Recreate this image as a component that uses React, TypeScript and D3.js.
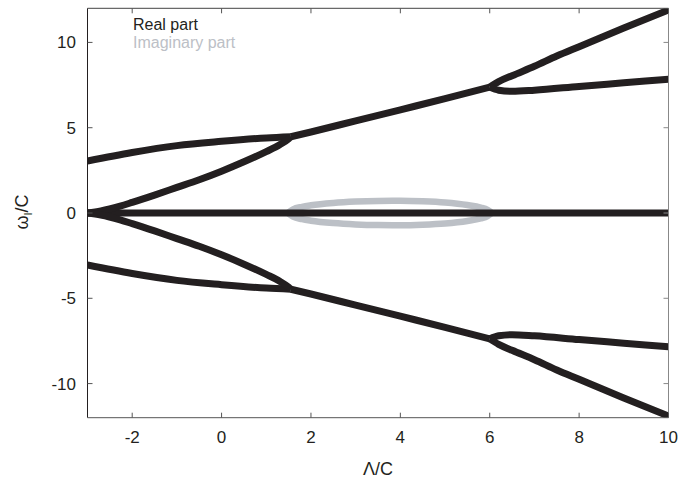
import React from "react";
import * as d3 from "d3";

const W = 679, H = 482;
const M = { left: 87.5, right: 668.5, top: 8.3, bottom: 417.7 };

const xTicks = [-2, 0, 2, 4, 6, 8, 10];
const yTicks = [-10, -5, 0, 5, 10];

// Real part branches (Λ/C, ω/C)
const zeroX = [-3, 10];
const zeroY = [0, 0];

const upAX = [-3, -2, -1, 0, 1, 1.55];
const upAY = [3.05, 3.55, 3.95, 4.2, 4.4, 4.47];
const upBX = [-3, -2.7, -2.27, -2, -1.5, -1, -0.5, 0, 0.5, 1, 1.3, 1.5, 1.55];
const upBY = [0, 0.12, 0.4, 0.62, 1.05, 1.5, 1.95, 2.45, 3.0, 3.6, 4.0, 4.35, 4.47];
const upMX = [1.55, 2, 3, 4, 5, 6];
const upMY = [4.47, 4.75, 5.4, 6.05, 6.7, 7.38];
const upTopX = [6, 6.2, 6.5, 7, 7.5, 8, 9, 10];
const upTopY = [7.38, 7.7, 8.05, 8.6, 9.2, 9.75, 10.85, 11.9];
const upLowX = [6, 6.2, 6.5, 7, 8, 9, 10];
const upLowY = [7.38, 7.2, 7.13, 7.2, 7.42, 7.63, 7.84];

const dnAX = [-3, -2, -1, 0, 1, 1.55];
const dnAY = [-3.05, -3.55, -3.95, -4.2, -4.4, -4.47];
const dnBX = [-3, -2.7, -2.27, -2, -1.5, -1, -0.5, 0, 0.5, 1, 1.3, 1.5, 1.55];
const dnBY = [0, -0.12, -0.4, -0.62, -1.05, -1.5, -1.95, -2.45, -3.0, -3.6, -4.0, -4.35, -4.47];
const dnMX = [1.55, 2, 3, 4, 5, 6];
const dnMY = [-4.47, -4.75, -5.4, -6.05, -6.7, -7.38];
const dnBotX = [6, 6.2, 6.5, 7, 7.5, 8, 9, 10];
const dnBotY = [-7.38, -7.7, -8.05, -8.6, -9.2, -9.75, -10.85, -11.9];
const dnHighX = [6, 6.2, 6.5, 7, 8, 9, 10];
const dnHighY = [-7.38, -7.2, -7.13, -7.2, -7.42, -7.63, -7.84];

// Imaginary part loop
const imUpX = [1.48, 1.6, 1.8, 2.0, 2.5, 3.0, 3.5, 4.0, 4.5, 5.0, 5.5, 5.8, 5.95, 6.05];
const imUpY = [0, 0.22, 0.36, 0.45, 0.59, 0.67, 0.71, 0.72, 0.69, 0.62, 0.47, 0.32, 0.18, 0];
const imDnX = [1.48, 1.6, 1.8, 2.0, 2.5, 3.0, 3.5, 4.0, 4.5, 5.0, 5.5, 5.8, 5.95, 6.05];
const imDnY = [0, -0.22, -0.36, -0.45, -0.59, -0.67, -0.71, -0.72, -0.69, -0.62, -0.47, -0.32, -0.18, 0];

const realSeries: [number[], number[]][] = [
  [zeroX, zeroY],
  [upAX, upAY], [upBX, upBY], [upMX, upMY], [upTopX, upTopY], [upLowX, upLowY],
  [dnAX, dnAY], [dnBX, dnBY], [dnMX, dnMY], [dnBotX, dnBotY], [dnHighX, dnHighY],
];
const imagSeries: [number[], number[]][] = [[imUpX, imUpY], [imDnX, imDnY]];

const BLACK = "#231f20";
const GRAY = "#bcc0c6";
const FONT = "'Liberation Sans', Arial, Helvetica, sans-serif";

export default function App() {
  const x = d3.scaleLinear().domain([-3, 10]).range([M.left, M.right]);
  const y = d3.scaleLinear().domain([-12, 12]).range([M.bottom, M.top]);
  const line = d3
    .line<[number, number]>()
    .x((d) => x(d[0]))
    .y((d) => y(d[1]))
    .curve(d3.curveMonotoneX);
  const toPts = (xs: number[], ys: number[]) => xs.map((v, i) => [v, ys[i]] as [number, number]);
  const tl = 5;

  return (
    <svg width={W} height={H} style={{ position: "absolute", left: 0, top: 0, background: "#fff" }}>
      <defs>
        <clipPath id="plotclip">
          <rect x={M.left} y={M.top} width={M.right - M.left} height={M.bottom - M.top} />
        </clipPath>
      </defs>
      <rect x={0} y={0} width={W} height={H} fill="#fff" />
      <g clipPath="url(#plotclip)">
        {imagSeries.map(([xs, ys], i) => (
          <path key={"im" + i} d={line(toPts(xs, ys)) || ""} fill="none" stroke={GRAY} strokeWidth={6.5} strokeLinejoin="round" />
        ))}
        {realSeries.map(([xs, ys], i) => (
          <path key={"re" + i} d={line(toPts(xs, ys)) || ""} fill="none" stroke={BLACK} strokeWidth={7} strokeLinejoin="round" />
        ))}
      </g>
      {/* frame */}
      <line x1={M.left} x2={M.left} y1={M.top} y2={M.bottom} stroke={BLACK} strokeWidth={1} />
      <line x1={M.left} x2={M.right} y1={M.bottom} y2={M.bottom} stroke="#555" strokeWidth={1} />
      <line x1={M.left} x2={M.right} y1={M.top} y2={M.top} stroke="#444" strokeWidth={1} />
      <line x1={M.right} x2={M.right} y1={M.top} y2={M.bottom} stroke="#888" strokeWidth={1} />
      {/* x ticks */}
      {xTicks.map((t) => (
        <g key={"xt" + t}>
          <line x1={x(t)} x2={x(t)} y1={M.bottom} y2={M.bottom - tl} stroke="#555" />
          <line x1={x(t)} x2={x(t)} y1={M.top} y2={M.top + tl} stroke="#555" />
          <text x={x(t)} y={443} textAnchor="middle" fontFamily={FONT} fontSize={17} fill={BLACK}>
            {t}
          </text>
        </g>
      ))}
      {yTicks.map((t) => (
        <g key={"yt" + t}>
          <line x1={M.left} x2={M.left + tl} y1={y(t)} y2={y(t)} stroke="#555" />
          <line x1={M.right} x2={M.right - tl} y1={y(t)} y2={y(t)} stroke="#888" />
          <text x={76} y={y(t) + 6} textAnchor="end" fontFamily={FONT} fontSize={17} fill={BLACK}>
            {t}
          </text>
        </g>
      ))}
      {/* axis titles */}
      <text x={378} y={475} textAnchor="middle" fontFamily={FONT} fontSize={18} fill={BLACK}>
        Λ/C
      </text>
      <text transform="translate(28,212) rotate(-90)" textAnchor="middle" fontFamily={FONT} fontSize={18} fill={BLACK}>
        ω<tspan fontSize={11} dy={4}>I</tspan>
        <tspan dy={-4}>/C</tspan>
      </text>
      {/* legend */}
      <text x={133} y={30} fontFamily={FONT} fontSize={16} fill={BLACK}>
        Real part
      </text>
      <text x={133} y={48} fontFamily={FONT} fontSize={16} fill={GRAY}>
        Imaginary part
      </text>
    </svg>
  );
}
